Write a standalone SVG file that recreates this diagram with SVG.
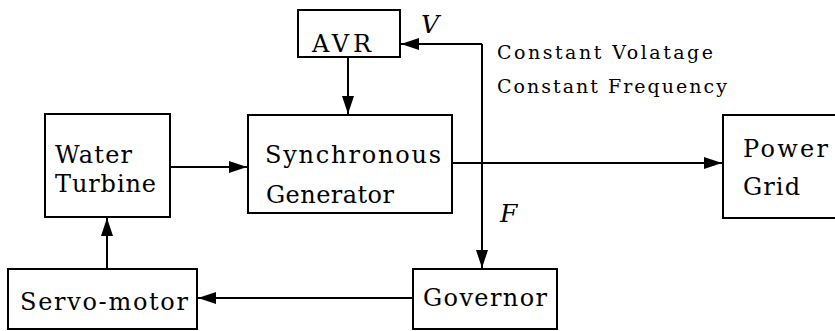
<svg xmlns="http://www.w3.org/2000/svg" width="835" height="331" viewBox="0 0 835 331">
<style>
.box{fill:#fff;stroke:#000;stroke-width:2}
.c{fill:none;stroke:#000;stroke-width:2}
text{font-family:"DejaVu Serif","Liberation Serif",serif;fill:#000}
</style>
<defs>
<marker id="ah" markerUnits="userSpaceOnUse" markerWidth="20" markerHeight="12" refX="18" refY="6" orient="auto">
<path d="M0,0 L18,6 L0,12 Z" fill="#000"/>
</marker>
</defs>
<rect width="835" height="331" fill="#fff"/>
<g id="connectors">
<path class="c" d="M348,57 V114" marker-end="url(#ah)"/>
<path class="c" d="M170,167 H247" marker-end="url(#ah)"/>
<path class="c" d="M452,163 H722" marker-end="url(#ah)"/>
<path class="c" d="M482,44 H401" marker-end="url(#ah)"/>
<path class="c" d="M482,44 V268" marker-end="url(#ah)"/>
<path class="c" d="M413,298 H198" marker-end="url(#ah)"/>
<path class="c" d="M107,269 V218" marker-end="url(#ah)"/>
</g>
<g font-size="24">
<g id="avr">
<rect class="box" x="298" y="10" width="102" height="47"/>
<text x="312" y="52" textLength="59" lengthAdjust="spacing">AVR</text>
</g>
<g id="sync-gen">
<rect class="box" x="248" y="115" width="204" height="98"/>
<text x="265" y="163" textLength="176" lengthAdjust="spacing">Synchronous</text>
<text x="266" y="203" textLength="128" lengthAdjust="spacing">Generator</text>
</g>
<g id="water-turbine">
<rect class="box" x="45" y="114" width="125" height="103"/>
<text x="55" y="163" textLength="77" lengthAdjust="spacing">Water</text>
<text x="55" y="192" textLength="101" lengthAdjust="spacing">Turbine</text>
</g>
<g id="power-grid">
<rect class="box" x="723" y="115" width="120" height="103"/>
<text x="743" y="157" textLength="85" lengthAdjust="spacing">Power</text>
<text x="743" y="195" textLength="57" lengthAdjust="spacing">Grid</text>
</g>
<g id="servo-motor">
<rect class="box" x="8" y="269" width="189" height="60"/>
<text x="20" y="310" textLength="168" lengthAdjust="spacing">Servo-motor</text>
</g>
<g id="governor">
<rect class="box" x="413" y="269" width="144" height="60"/>
<text x="423" y="306" textLength="124" lengthAdjust="spacing">Governor</text>
</g>
<g id="labels">
<text x="421" y="33" font-size="25" font-style="italic">V</text>
<text x="500" y="222" font-size="25" font-style="italic">F</text>
<text x="497" y="59" font-size="19" textLength="216" lengthAdjust="spacing">Constant Volatage</text>
<text x="497" y="93" font-size="19" textLength="230" lengthAdjust="spacing">Constant Frequency</text>
</g>
</g>
</svg>
